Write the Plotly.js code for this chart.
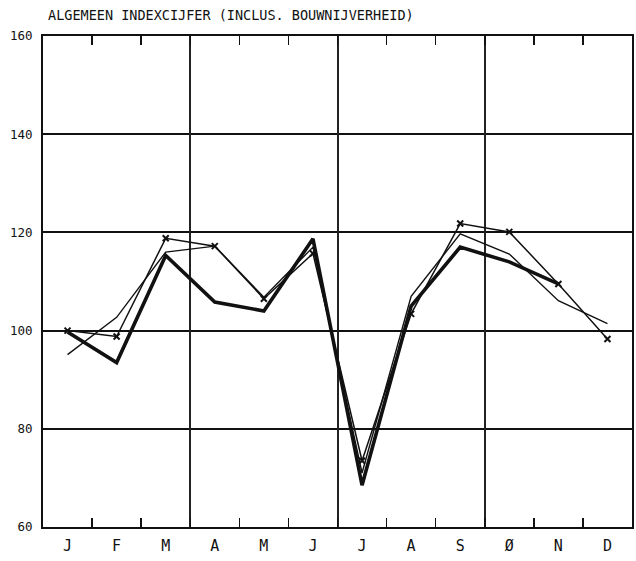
<!DOCTYPE html>
<html>
<head>
<meta charset="utf-8">
<script src="https://cdn.plot.ly/plotly-3.0.1.min.js"></script>
<style>html,body{margin:0;padding:0;background:#fff;}#chart{width:636px;height:561px;}</style>
</head>
<body>
<div id="chart"></div>
<script>
const months = ["J","F","M","A","M","J","J","A","S","Ø","N","D"];
const monthIndex = [0,1,2,3,4,5,6,7,8,9,10,11];
const seriesThick  = [99.7, 93.5, 115.3, 105.8, 104.0, 118.7, 68.5, 105.0, 117.0, 114.0, 109.5, null];
const seriesThin   = [95.1, 102.7, 116.0, 117.2, 106.8, 117.0, 71.0, 107.0, 119.7, 115.6, 106.1, 101.4];
const seriesMarker = [100.0, 98.8, 118.8, 117.2, 106.5, 115.7, 73.5, 103.4, 121.8, 120.1, 109.5, 98.3];
const yTicks = [60, 80, 100, 120, 140, 160];
const quarterLines = [2.5, 5.5, 8.5];
const monthBounds = [0.5, 1.5, 3.5, 4.5, 6.5, 7.5, 9.5, 10.5];

const font = "DejaVu Sans Mono, monospace";
const traces = [
  {x: monthIndex, y: seriesThin, mode: "lines", line: {color: "#111", width: 1.4}, xaxis: "x2", yaxis: "y", connectgaps: false},
  {x: monthIndex, y: seriesMarker, mode: "lines+markers", line: {color: "#111", width: 1.5},
   marker: {symbol: "x-thin", size: 6, line: {color: "#111", width: 2}}, xaxis: "x", yaxis: "y"},
  {x: monthIndex, y: seriesThick, mode: "lines", line: {color: "#111", width: 3.6}, xaxis: "x", yaxis: "y", connectgaps: false}
];
const layout = {
  width: 636, height: 561,
  margin: {l: 43, r: 4, t: 36, b: 34},
  paper_bgcolor: "#fff", plot_bgcolor: "#fff",
  showlegend: false,
  font: {family: font, color: "#111"},
  title: {text: "ALGEMEEN INDEXCIJFER (INCLUS. BOUWNIJVERHEID)", x: 48/636, xanchor: "left", xref: "container",
          y: 1 - 15/561, yanchor: "middle", yref: "container", font: {family: font, size: 13.5, color: "#111"}},
  xaxis: {range: [-0.5, 11.5], tickvals: monthIndex, ticktext: months, ticks: "", showgrid: false,
          zeroline: false, showline: true, linecolor: "#111", linewidth: 2, mirror: true,
          tickfont: {family: font, size: 15, color: "#111"}, ticklabelstandoff: 4, fixedrange: true},
  xaxis2: {overlaying: "x", range: [-0.5, 11.5], side: "bottom", tickvals: quarterLines, showticklabels: false,
           ticks: "inside", ticklen: 9, tickwidth: 1.5, tickcolor: "#111", showgrid: true, gridcolor: "#222", gridwidth: 2,
           mirror: "ticks", showline: false, zeroline: false, fixedrange: true,
           minor: {tickvals: monthBounds, ticks: "inside", ticklen: 9, tickwidth: 1.5, tickcolor: "#111", showgrid: false}},
  yaxis: {range: [60, 160], tickvals: yTicks, ticktext: yTicks.map(String), ticks: "", showgrid: true,
          gridcolor: "#111", gridwidth: 2, zeroline: false, showline: true, linecolor: "#111", linewidth: 2, mirror: true,
          tickfont: {family: font, size: 12.5, color: "#111"}, ticklabelstandoff: 6, fixedrange: true}
};
Plotly.newPlot("chart", traces, layout, {displayModeBar: false, staticPlot: true});
</script>
</body>
</html>
